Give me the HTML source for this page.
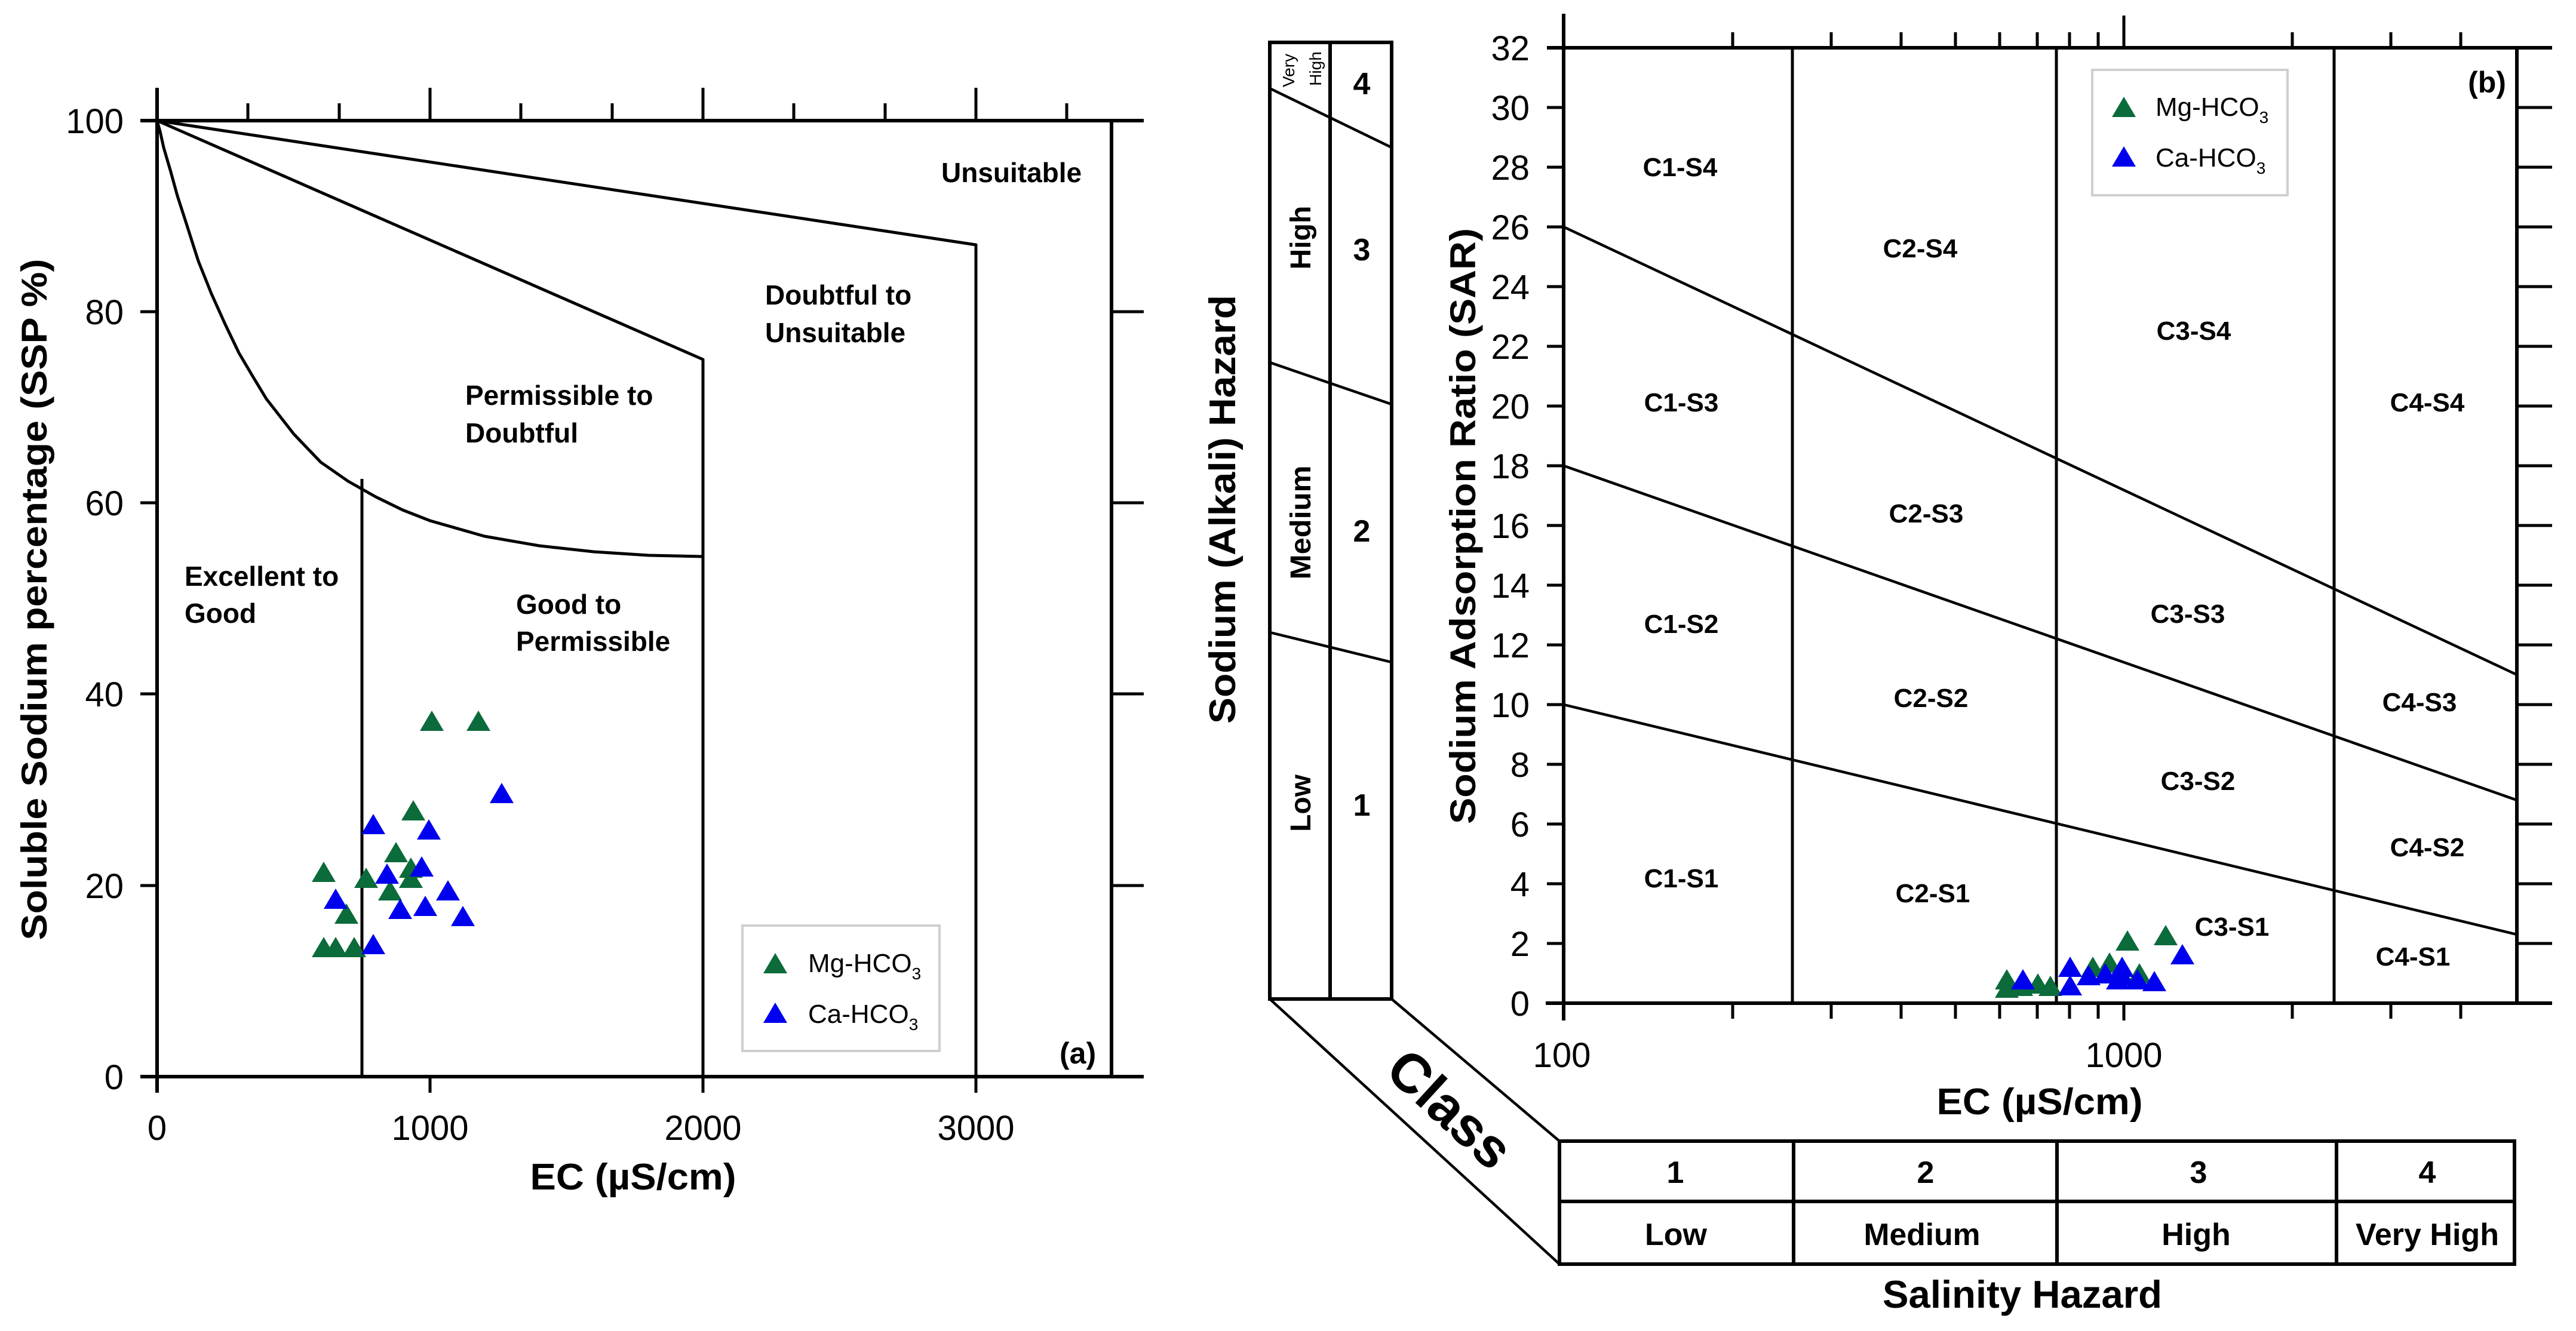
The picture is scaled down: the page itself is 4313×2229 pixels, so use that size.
<!DOCTYPE html>
<html><head><meta charset="utf-8"><style>
html,body{margin:0;padding:0;background:#fff;}
svg{display:block;}
text{font-family:"Liberation Sans",Arial,sans-serif;fill:#000;}
.b{font-weight:bold;}
</style></head><body>
<svg width="4313" height="2229" viewBox="0 0 4313 2229" xmlns="http://www.w3.org/2000/svg">
<defs>
<path id="tg" d="M0,-19 L20,15 L-20,15Z" fill="#0b6b3b"/>
<path id="tb" d="M0,-19 L20,15 L-20,15Z" fill="#0000ee"/>
</defs>
<rect width="4313" height="2229" fill="#fff"/>

<!-- ============ PLOT A ============ -->
<g stroke="#000" stroke-width="6" fill="none">
 <line x1="263" y1="147" x2="263" y2="1830"/>
 <line x1="235" y1="202" x2="1915" y2="202"/>
 <line x1="235" y1="1803" x2="1915" y2="1803"/>
 <line x1="1861" y1="202" x2="1861" y2="1803"/>
</g>
<g stroke="#000" stroke-width="5">
 <line x1="235" y1="1483" x2="263" y2="1483"/>
 <line x1="235" y1="1162" x2="263" y2="1162"/>
 <line x1="235" y1="842" x2="263" y2="842"/>
 <line x1="235" y1="522" x2="263" y2="522"/>
 <line x1="1861" y1="1483" x2="1915" y2="1483"/>
 <line x1="1861" y1="1162" x2="1915" y2="1162"/>
 <line x1="1861" y1="842" x2="1915" y2="842"/>
 <line x1="1861" y1="522" x2="1915" y2="522"/>
 <line x1="720" y1="1803" x2="720" y2="1830"/>
 <line x1="1177" y1="1803" x2="1177" y2="1830"/>
 <line x1="1634" y1="1803" x2="1634" y2="1830"/>
 <line x1="415" y1="173" x2="415" y2="202"/>
 <line x1="568" y1="173" x2="568" y2="202"/>
 <line x1="720" y1="147" x2="720" y2="202"/>
 <line x1="872" y1="173" x2="872" y2="202"/>
 <line x1="1025" y1="173" x2="1025" y2="202"/>
 <line x1="1177" y1="147" x2="1177" y2="202"/>
 <line x1="1329" y1="173" x2="1329" y2="202"/>
 <line x1="1482" y1="173" x2="1482" y2="202"/>
 <line x1="1634" y1="147" x2="1634" y2="202"/>
 <line x1="1786" y1="173" x2="1786" y2="202"/>
</g>
<g stroke="#000" stroke-width="5" fill="none" stroke-linejoin="round">
 <polyline points="263,202 1634,410 1634,1803"/>
 <polyline points="263,202 1177,602 1177,1803"/>
 <polyline points="263,202 268,220 274,247 286,288 297,328 309,365 332,437 354,492 377,543 400,591 423,630 446,668 492,727 537,774 583,806 629,832 674,854 720,872 811,898 903,914 994,924 1086,930 1177,932"/>
 <line x1="606" y1="802" x2="606" y2="1803"/>
</g>
<g font-size="58" text-anchor="end">
 <text x="207" y="1824">0</text>
 <text x="207" y="1504">20</text>
 <text x="207" y="1183">40</text>
 <text x="207" y="863">60</text>
 <text x="207" y="543">80</text>
 <text x="207" y="223">100</text>
</g>
<g font-size="58" text-anchor="middle">
 <text x="263" y="1909">0</text>
 <text x="720" y="1909">1000</text>
 <text x="1177" y="1909">2000</text>
 <text x="1634" y="1909">3000</text>
</g>
<text class="b" x="1060" y="1992" font-size="62" text-anchor="middle" textLength="345" lengthAdjust="spacingAndGlyphs">EC (µS/cm)</text>
<text class="b" font-size="60" text-anchor="middle" transform="translate(78,1004) rotate(-90)" textLength="1141" lengthAdjust="spacingAndGlyphs">Soluble Sodium percentage (SSP %)</text>
<g class="b" font-size="46">
 <text x="1576" y="305">Unsuitable</text>
 <text x="1281" y="510">Doubtful to</text>
 <text x="1281" y="573">Unsuitable</text>
 <text x="779" y="678">Permissible to</text>
 <text x="779" y="741">Doubtful</text>
 <text x="309" y="981">Excellent to</text>
 <text x="309" y="1043">Good</text>
 <text x="864" y="1028">Good to</text>
 <text x="864" y="1090">Permissible</text>
 <text x="1774" y="1781" font-size="50">(a)</text>
</g>
<rect x="1243" y="1550" width="330" height="210" fill="#fff" stroke="#cfcfcf" stroke-width="4"/>
<use href="#tg" x="1298" y="1615"/>
<use href="#tb" x="1298" y="1698"/>
<text x="1353" y="1628" font-size="44">Mg-HCO<tspan font-size="28" dy="12">3</tspan></text>
<text x="1353" y="1713" font-size="44">Ca-HCO<tspan font-size="28" dy="12">3</tspan></text>
<g>
<use href="#tb" x="625" y="1382"/><use href="#tb" x="718" y="1391"/><use href="#tb" x="840" y="1330"/>
<use href="#tg" x="542" y="1462"/><use href="#tg" x="723" y="1209"/><use href="#tg" x="801" y="1209"/>
<use href="#tg" x="692" y="1359"/><use href="#tg" x="663" y="1429"/><use href="#tg" x="653" y="1493"/>
<use href="#tg" x="688" y="1455"/><use href="#tg" x="688" y="1472"/><use href="#tg" x="613" y="1472"/>
<use href="#tg" x="580" y="1532"/><use href="#tg" x="542" y="1588"/><use href="#tg" x="562" y="1588"/><use href="#tg" x="593" y="1588"/>
<use href="#tb" x="706" y="1453"/><use href="#tb" x="648" y="1465"/><use href="#tb" x="562" y="1507"/>
<use href="#tb" x="670" y="1524"/><use href="#tb" x="712" y="1519"/><use href="#tb" x="750" y="1493"/>
<use href="#tb" x="775" y="1536"/><use href="#tb" x="625" y="1583"/>
</g>

<!-- ============ SODIUM HAZARD BOX ============ -->
<g stroke="#000" stroke-width="6" fill="none">
 <rect x="2126" y="71" width="204" height="1602"/>
 <line x1="2227" y1="71" x2="2227" y2="1673"/>
</g>
<g stroke="#000" stroke-width="4.5" fill="none">
 <line x1="2126" y1="148" x2="2330" y2="247"/>
 <line x1="2126" y1="607" x2="2330" y2="677"/>
 <line x1="2126" y1="1059" x2="2330" y2="1109"/>
 <line x1="2126" y1="1673" x2="2611" y2="2117"/>
 <line x1="2330" y1="1673" x2="2611" y2="1911"/>
</g>
<g class="b" font-size="48" text-anchor="middle">
 <text transform="translate(2194,398) rotate(-90)">High</text>
 <text transform="translate(2194,875) rotate(-90)" textLength="191" lengthAdjust="spacingAndGlyphs">Medium</text>
 <text transform="translate(2194,1345) rotate(-90)">Low</text>
</g>
<g font-size="28" text-anchor="middle">
 <text transform="translate(2167,118) rotate(-90)">Very</text>
 <text transform="translate(2212,115) rotate(-90)">High</text>
</g>
<g class="b" font-size="52" text-anchor="middle">
 <text x="2280" y="158">4</text>
 <text x="2280" y="436">3</text>
 <text x="2280" y="907">2</text>
 <text x="2280" y="1366">1</text>
</g>
<text class="b" font-size="62" text-anchor="middle" transform="translate(2068,853) rotate(-90)" textLength="718" lengthAdjust="spacingAndGlyphs">Sodium (Alkali) Hazard</text>
<text class="b" font-size="92" text-anchor="middle" transform="translate(2428,1857) rotate(42.5)" dy="32">Class</text>

<g stroke="#000" stroke-width="6" fill="none">
 <rect x="2611" y="1911" width="1599" height="206"/>
 <line x1="2611" y1="2012" x2="4210" y2="2012"/>
 <line x1="3003" y1="1911" x2="3003" y2="2117"/>
 <line x1="3444" y1="1911" x2="3444" y2="2117"/>
 <line x1="3912" y1="1911" x2="3912" y2="2117"/>
</g>
<g class="b" font-size="52" text-anchor="middle">
 <text x="2805" y="1981">1</text>
 <text x="3224" y="1981">2</text>
 <text x="3681" y="1981">3</text>
 <text x="4064" y="1981">4</text>
 <text x="2806" y="2085">Low</text>
 <text x="3218" y="2085" textLength="195" lengthAdjust="spacingAndGlyphs">Medium</text>
 <text x="3677" y="2085">High</text>
 <text x="4064" y="2085" textLength="240" lengthAdjust="spacingAndGlyphs">Very High</text>
</g>
<text class="b" x="3386" y="2190" font-size="65" text-anchor="middle" textLength="468" lengthAdjust="spacingAndGlyphs">Salinity Hazard</text>

<!-- ============ PLOT B ============ -->
<g stroke="#000" stroke-width="6" fill="none">
 <line x1="2618" y1="23" x2="2618" y2="1709"/>
 <line x1="2590" y1="80" x2="4273" y2="80"/>
 <line x1="2588" y1="1680" x2="4273" y2="1680"/>
 <line x1="4214" y1="80" x2="4214" y2="1680"/>
</g>
<g stroke="#000" stroke-width="5">
 <line x1="3001" y1="80" x2="3001" y2="1680"/>
 <line x1="3443" y1="80" x2="3443" y2="1680"/>
 <line x1="3908" y1="80" x2="3908" y2="1680"/>
</g>
<g stroke="#000" stroke-width="4.5">
 <line x1="2618" y1="380" x2="4214" y2="1130"/>
 <line x1="2618" y1="780" x2="4214" y2="1340"/>
 <line x1="2618" y1="1180" x2="4214" y2="1565"/>
</g>
<g stroke="#000" stroke-width="5">
 <line x1="2590" y1="1580" x2="2618" y2="1580"/><line x1="4214" y1="1580" x2="4273" y2="1580"/>
 <line x1="2590" y1="1480" x2="2618" y2="1480"/><line x1="4214" y1="1480" x2="4273" y2="1480"/>
 <line x1="2590" y1="1380" x2="2618" y2="1380"/><line x1="4214" y1="1380" x2="4273" y2="1380"/>
 <line x1="2590" y1="1280" x2="2618" y2="1280"/><line x1="4214" y1="1280" x2="4273" y2="1280"/>
 <line x1="2590" y1="1180" x2="2618" y2="1180"/><line x1="4214" y1="1180" x2="4273" y2="1180"/>
 <line x1="2590" y1="1080" x2="2618" y2="1080"/><line x1="4214" y1="1080" x2="4273" y2="1080"/>
 <line x1="2590" y1="980" x2="2618" y2="980"/><line x1="4214" y1="980" x2="4273" y2="980"/>
 <line x1="2590" y1="880" x2="2618" y2="880"/><line x1="4214" y1="880" x2="4273" y2="880"/>
 <line x1="2590" y1="780" x2="2618" y2="780"/><line x1="4214" y1="780" x2="4273" y2="780"/>
 <line x1="2590" y1="680" x2="2618" y2="680"/><line x1="4214" y1="680" x2="4273" y2="680"/>
 <line x1="2590" y1="580" x2="2618" y2="580"/><line x1="4214" y1="580" x2="4273" y2="580"/>
 <line x1="2590" y1="480" x2="2618" y2="480"/><line x1="4214" y1="480" x2="4273" y2="480"/>
 <line x1="2590" y1="380" x2="2618" y2="380"/><line x1="4214" y1="380" x2="4273" y2="380"/>
 <line x1="2590" y1="280" x2="2618" y2="280"/><line x1="4214" y1="280" x2="4273" y2="280"/>
 <line x1="2590" y1="180" x2="2618" y2="180"/><line x1="4214" y1="180" x2="4273" y2="180"/>
 <line x1="2901" y1="54" x2="2901" y2="80"/><line x1="3066" y1="54" x2="3066" y2="80"/>
 <line x1="3183" y1="54" x2="3183" y2="80"/><line x1="3274" y1="54" x2="3274" y2="80"/>
 <line x1="3348" y1="54" x2="3348" y2="80"/><line x1="3411" y1="54" x2="3411" y2="80"/>
 <line x1="3465" y1="54" x2="3465" y2="80"/><line x1="3513" y1="54" x2="3513" y2="80"/>
 <line x1="3556" y1="26" x2="3556" y2="80"/><line x1="3838" y1="54" x2="3838" y2="80"/>
 <line x1="4003" y1="54" x2="4003" y2="80"/><line x1="4120" y1="54" x2="4120" y2="80"/>
 <line x1="2901" y1="1680" x2="2901" y2="1706"/><line x1="3066" y1="1680" x2="3066" y2="1706"/>
 <line x1="3183" y1="1680" x2="3183" y2="1706"/><line x1="3274" y1="1680" x2="3274" y2="1706"/>
 <line x1="3348" y1="1680" x2="3348" y2="1706"/><line x1="3411" y1="1680" x2="3411" y2="1706"/>
 <line x1="3465" y1="1680" x2="3465" y2="1706"/><line x1="3513" y1="1680" x2="3513" y2="1706"/>
 <line x1="3556" y1="1680" x2="3556" y2="1709"/><line x1="3838" y1="1680" x2="3838" y2="1706"/>
 <line x1="4003" y1="1680" x2="4003" y2="1706"/><line x1="4120" y1="1680" x2="4120" y2="1706"/>
</g>
<g font-size="58" text-anchor="end">
 <text x="2561" y="1701">0</text><text x="2561" y="1601">2</text><text x="2561" y="1501">4</text>
 <text x="2561" y="1401">6</text><text x="2561" y="1301">8</text><text x="2561" y="1201">10</text>
 <text x="2561" y="1101">12</text><text x="2561" y="1001">14</text><text x="2561" y="901">16</text>
 <text x="2561" y="801">18</text><text x="2561" y="701">20</text><text x="2561" y="601">22</text>
 <text x="2561" y="501">24</text><text x="2561" y="401">26</text><text x="2561" y="301">28</text>
 <text x="2561" y="201">30</text><text x="2561" y="101">32</text>
</g>
<g font-size="58" text-anchor="middle">
 <text x="2615" y="1787">100</text>
 <text x="3556" y="1787">1000</text>
</g>
<text class="b" x="3415" y="1866" font-size="62" text-anchor="middle" textLength="345" lengthAdjust="spacingAndGlyphs">EC (µS/cm)</text>
<text class="b" font-size="60" text-anchor="middle" transform="translate(2470,881) rotate(-90)" textLength="998" lengthAdjust="spacingAndGlyphs">Sodium Adsorption Ratio (SAR)</text>
<g class="b" font-size="44" text-anchor="middle">
 <text x="2813" y="295">C1-S4</text>
 <text x="3215" y="431">C2-S4</text>
 <text x="3673" y="569">C3-S4</text>
 <text x="2815" y="689">C1-S3</text>
 <text x="4064" y="689">C4-S4</text>
 <text x="3225" y="875">C2-S3</text>
 <text x="2815" y="1060">C1-S2</text>
 <text x="3663" y="1043">C3-S3</text>
 <text x="3233" y="1184">C2-S2</text>
 <text x="4051" y="1191">C4-S3</text>
 <text x="3680" y="1323">C3-S2</text>
 <text x="4064" y="1434">C4-S2</text>
 <text x="2815" y="1486">C1-S1</text>
 <text x="3236" y="1511">C2-S1</text>
 <text x="3737" y="1567">C3-S1</text>
 <text x="4040" y="1617">C4-S1</text>
 <text x="4164" y="155" font-size="50">(b)</text>
</g>
<rect x="3503" y="117" width="327" height="210" fill="#fff" stroke="#cfcfcf" stroke-width="4"/>
<use href="#tg" x="3556" y="181"/>
<use href="#tb" x="3556" y="264"/>
<text x="3609" y="194" font-size="44">Mg-HCO<tspan font-size="28" dy="12">3</tspan></text>
<text x="3609" y="279" font-size="44">Ca-HCO<tspan font-size="28" dy="12">3</tspan></text>
<g>
<use href="#tg" x="3360" y="1642"/><use href="#tg" x="3360" y="1656"/><use href="#tg" x="3384" y="1653"/>
<use href="#tg" x="3412" y="1649"/><use href="#tg" x="3433" y="1653"/><use href="#tg" x="3504" y="1621"/>
<use href="#tg" x="3532" y="1614"/><use href="#tg" x="3562" y="1577"/><use href="#tg" x="3626" y="1568"/>
<use href="#tg" x="3582" y="1632"/>
<use href="#tb" x="3387" y="1642"/><use href="#tb" x="3466" y="1621"/><use href="#tb" x="3466" y="1652"/>
<use href="#tb" x="3497" y="1635"/><use href="#tb" x="3525" y="1632"/><use href="#tb" x="3553" y="1621"/>
<use href="#tb" x="3553" y="1635"/><use href="#tb" x="3579" y="1642"/><use href="#tb" x="3607" y="1645"/>
<use href="#tb" x="3654" y="1600"/><use href="#tb" x="3546" y="1642"/>
</g>
</svg>
</body></html>
